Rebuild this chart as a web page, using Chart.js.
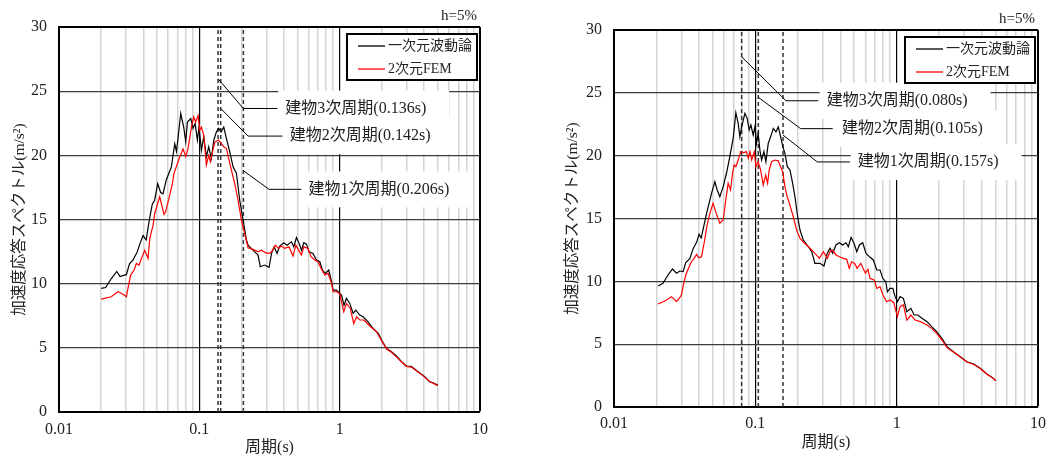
<!DOCTYPE html>
<html>
<head>
<meta charset="utf-8">
<script src="https://cdn.jsdelivr.net/npm/chart.js@4.4.1/dist/chart.umd.min.js"></script>
<style>
  body { margin: 0; background: #fff; }
  .panel { position: absolute; top: 0; }
</style>
</head>
<body>
<div class="panel" style="left:0"><canvas id="leftChart" width="530" height="459"></canvas></div>
<div class="panel" style="left:530px"><canvas id="rightChart" width="526" height="459"></canvas></div>
<script>
// shared axis stuff
const xLabelValues = [0.01, 0.1, 1, 10];
const xLabelTexts = ['0.01', '0.1', '1', '10'];
const seriesNames = ['一次元波動論', '2次元FEM'];
const xTitle = '周期(s)';
const yTitle = '加速度応答スペクトル(m/s²)';
const dampingText = 'h=5%';

// left panel
const leftBlackT = [0.0200, 0.0215, 0.0236, 0.0258, 0.0272, 0.0288, 0.0302, 0.0318, 0.0337, 0.0360,
  0.0380, 0.0397, 0.0418, 0.0440, 0.0462, 0.0480, 0.0505, 0.0530, 0.0551, 0.0582,
  0.0632, 0.0668, 0.0687, 0.0706, 0.0737, 0.0774, 0.0800, 0.0822, 0.0869, 0.0902,
  0.0933, 0.0969, 0.0995, 0.1035, 0.1075, 0.1122, 0.1166, 0.1219, 0.1267, 0.1324,
  0.1374, 0.1428, 0.1493, 0.1560, 0.1647, 0.1740, 0.1837, 0.1940, 0.2050, 0.2166,
  0.2225, 0.2480, 0.2620, 0.2720, 0.2920, 0.3140, 0.3270, 0.3410, 0.3580, 0.3740,
  0.4000, 0.4220, 0.4530, 0.4710, 0.4920, 0.5140, 0.5340, 0.5550, 0.5800, 0.6050,
  0.6460, 0.6830, 0.7220, 0.7540, 0.7920, 0.8360, 0.8750, 0.8980, 0.9480, 1.0300,
  1.0740, 1.1170, 1.1800, 1.2470, 1.3030, 1.3900, 1.4680, 1.5930, 1.7300, 1.8800,
  1.9900, 2.1600, 2.3400, 2.5400, 2.7600, 2.9900, 3.2500, 3.6200, 4.0400, 4.3800,
  4.6300, 5.0000];
const leftBlack = [9.63, 9.70, 10.40, 10.95, 10.55, 10.65, 10.70, 11.55, 11.85, 12.45,
  13.20, 13.75, 13.40, 14.95, 16.20, 16.50, 17.80, 17.10, 17.00, 18.10,
  19.10, 20.90, 20.30, 21.40, 23.26, 22.20, 21.05, 22.60, 22.87, 22.10,
  22.48, 21.18, 22.20, 20.40, 21.44, 19.90, 20.66, 19.76, 21.18, 21.83,
  22.10, 21.83, 22.20, 21.30, 20.27, 19.10, 18.60, 16.50, 14.95, 13.40,
  13.00, 12.48, 12.23, 11.32, 11.45, 11.27, 12.36, 12.87, 12.36, 12.93,
  13.19, 13.00, 13.26, 12.87, 13.60, 13.14, 12.60, 13.19, 13.08, 12.48,
  12.36, 11.84, 11.71, 11.06, 10.80, 11.06, 10.15, 9.50, 9.50, 9.11,
  8.33, 8.85, 8.46, 7.69, 7.94, 7.55, 7.42, 7.03, 6.52, 6.15,
  5.60, 4.95, 4.70, 4.36, 3.92, 3.58, 3.53, 3.14, 2.75, 2.36,
  2.28, 2.10];
const leftRedT = [0.0200, 0.0236, 0.0263, 0.0286, 0.0302, 0.0310, 0.0324, 0.0343, 0.0356, 0.0372,
  0.0387, 0.0408, 0.0431, 0.0443, 0.0468, 0.0481, 0.0522, 0.0560, 0.0575, 0.0615,
  0.0643, 0.0660, 0.0705, 0.0733, 0.0765, 0.0800, 0.0830, 0.0879, 0.0912, 0.0942,
  0.0980, 0.1007, 0.1035, 0.1075, 0.1122, 0.1166, 0.1200, 0.1288, 0.1374, 0.1430,
  0.1493, 0.1560, 0.1630, 0.1693, 0.1787, 0.1888, 0.1995, 0.2105, 0.2225, 0.2415,
  0.2620, 0.2770, 0.2970, 0.3170, 0.3320, 0.3490, 0.3660, 0.3850, 0.4050, 0.4350,
  0.4650, 0.4870, 0.5060, 0.5340, 0.5560, 0.5940, 0.6260, 0.6640, 0.7000, 0.7380,
  0.7830, 0.8260, 0.8750, 0.8980, 0.9480, 1.0000, 1.0700, 1.1170, 1.1900, 1.2600,
  1.3200, 1.3900, 1.4900, 1.6400, 1.8300, 1.9900, 2.1600, 2.3400, 2.5400, 2.7600,
  2.9900, 3.2500, 3.6200, 4.0400, 4.3800, 4.6300, 5.0000];
const leftRed = [8.80, 8.98, 9.37, 9.17, 8.98, 9.63, 10.67, 11.06, 11.58, 11.45,
  11.97, 12.60, 11.97, 13.50, 14.56, 15.47, 16.77, 15.40, 15.60, 16.90,
  17.80, 18.60, 19.50, 20.00, 20.50, 19.90, 20.50, 22.20, 23.00, 22.60,
  23.10, 21.96, 22.20, 21.57, 19.24, 20.00, 19.50, 21.05, 21.18, 20.93,
  20.66, 20.53, 19.60, 18.85, 17.80, 16.50, 14.95, 13.90, 12.80, 12.67,
  12.48, 12.60, 12.40, 12.36, 12.60, 13.00, 12.75, 12.93, 12.75, 12.87,
  12.15, 13.00, 12.67, 12.23, 12.87, 12.75, 12.10, 11.84, 11.71, 11.19,
  10.67, 10.80, 10.02, 9.37, 9.37, 9.24, 7.81, 8.46, 8.07, 6.90,
  7.42, 7.17, 7.17, 6.70, 6.25, 5.55, 4.90, 4.65, 4.30, 3.90,
  3.55, 3.50, 3.12, 2.72, 2.35, 2.25, 2.05];
const leftModes = [0.136, 0.142, 0.206];
const leftModeTexts = ['建物3次周期(0.136s)', '建物2次周期(0.142s)', '建物1次周期(0.206s)'];

// right panel
const rightBlackT = [0.0205, 0.0222, 0.0241, 0.0259, 0.0277, 0.0292, 0.0308, 0.0322, 0.0344, 0.0363,
  0.0384, 0.0400, 0.0414, 0.0430, 0.0452, 0.0490, 0.0517, 0.0537, 0.0561, 0.0592,
  0.0625, 0.0660, 0.0697, 0.0728, 0.0756, 0.0777, 0.0800, 0.0844, 0.0876, 0.0905,
  0.0930, 0.0966, 0.0993, 0.1020, 0.1047, 0.1077, 0.1107, 0.1150, 0.1188, 0.1234,
  0.1282, 0.1340, 0.1400, 0.1453, 0.1510, 0.1578, 0.1620, 0.1683, 0.1758, 0.1837,
  0.1906, 0.1993, 0.2070, 0.2184, 0.2370, 0.2505, 0.2640, 0.2866, 0.3060, 0.3230,
  0.3377, 0.3527, 0.3720, 0.3930, 0.4150, 0.4380, 0.4550, 0.4760, 0.4990, 0.5220,
  0.5450, 0.5750, 0.6070, 0.6480, 0.6840, 0.7230, 0.7630, 0.7970, 0.8370, 0.8600,
  0.8980, 0.9390, 0.9750, 1.0120, 1.0570, 1.1160, 1.1800, 1.2600, 1.3300, 1.4100,
  1.5100, 1.6400, 1.7700, 1.9200, 2.0900, 2.2700, 2.5200, 2.8200, 3.1400, 3.5000,
  3.9000, 4.3500, 4.8500, 5.0000];
const rightBlack = [9.63, 9.84, 10.50, 10.98, 10.64, 10.82, 10.77, 11.50, 11.80, 12.60,
  13.10, 13.74, 13.45, 14.30, 15.41, 17.00, 17.93, 17.27, 16.73, 17.53,
  18.60, 19.92, 21.38, 23.42, 22.57, 21.50, 22.30, 23.37, 22.97, 22.04,
  22.44, 21.64, 22.30, 20.98, 21.78, 20.45, 19.65, 20.32, 19.52, 20.98,
  21.50, 22.17, 21.90, 22.30, 21.50, 20.58, 20.19, 19.12, 18.86, 17.80,
  16.73, 15.14, 14.08, 13.29, 12.76, 12.36, 11.43, 11.43, 11.22, 12.23,
  12.63, 12.23, 12.89, 13.07, 12.89, 13.07, 12.76, 13.50, 13.03, 12.36,
  12.89, 13.07, 12.23, 11.91, 11.70, 10.90, 10.90, 10.24, 9.97, 9.17,
  9.44, 9.44, 8.78, 8.38, 8.78, 8.65, 7.58, 7.85, 7.32, 7.32,
  7.06, 6.79, 6.39, 5.99, 5.47, 4.80, 4.40, 4.00, 3.60, 3.42,
  3.08, 2.63, 2.28, 2.10];
const rightRedT = [0.0205, 0.0229, 0.0255, 0.0277, 0.0289, 0.0300, 0.0308, 0.0322, 0.0340, 0.0353,
  0.0369, 0.0384, 0.0398, 0.0416, 0.0434, 0.0456, 0.0477, 0.0502, 0.0529, 0.0561,
  0.0592, 0.0618, 0.0642, 0.0668, 0.0690, 0.0708, 0.0728, 0.0756, 0.0787, 0.0830,
  0.0865, 0.0891, 0.0916, 0.0942, 0.0982, 0.1010, 0.1047, 0.1090, 0.1137, 0.1183,
  0.1221, 0.1254, 0.1303, 0.1377, 0.1453, 0.1493, 0.1560, 0.1620, 0.1667, 0.1758,
  0.1855, 0.1960, 0.2070, 0.2180, 0.2436, 0.2640, 0.2840, 0.3030, 0.3230, 0.3377,
  0.3527, 0.3720, 0.3930, 0.4200, 0.4430, 0.4620, 0.4800, 0.5050, 0.5250, 0.5570,
  0.6010, 0.6260, 0.6480, 0.6960, 0.7230, 0.7630, 0.8000, 0.8490, 0.8980, 0.9540,
  1.0120, 1.0570, 1.1160, 1.1800, 1.2600, 1.3500, 1.4700, 1.6400, 1.7700, 1.9200,
  2.0900, 2.2700, 2.5200, 2.8200, 3.1400, 3.5000, 3.9000, 4.3500, 4.8500, 5.0000];
const rightRed = [8.20, 8.43, 8.78, 8.38, 8.65, 8.91, 9.57, 10.50, 11.16, 11.56,
  11.83, 12.15, 11.88, 11.96, 13.03, 14.50, 15.41, 16.20, 15.41, 14.62,
  14.88, 16.47, 17.80, 17.27, 18.60, 19.26, 19.12, 19.65, 20.32, 20.24,
  20.32, 19.80, 20.32, 19.65, 20.32, 19.12, 19.52, 18.86, 17.67, 18.46,
  17.80, 18.86, 19.52, 19.65, 19.60, 19.26, 18.72, 17.53, 16.87, 16.07,
  15.14, 14.08, 13.42, 13.15, 12.63, 12.23, 11.83, 12.36, 11.83, 12.36,
  12.49, 12.10, 11.96, 11.83, 11.75, 11.04, 11.56, 11.43, 11.04, 11.43,
  10.64, 10.96, 10.24, 10.10, 9.44, 9.57, 8.91, 8.38, 8.51, 8.30,
  7.19, 7.98, 8.12, 6.92, 7.32, 6.92, 6.79, 6.53, 6.26, 5.86,
  5.33, 4.72, 4.38, 3.98, 3.58, 3.40, 3.06, 2.61, 2.26, 2.08];
const rightModes = [0.080, 0.105, 0.157];
const rightModeTexts = ['建物3次周期(0.080s)', '建物2次周期(0.105s)', '建物1次周期(0.157s)'];

Chart.defaults.font.family = '"Liberation Serif", "Noto Sans CJK JP", serif';
Chart.defaults.color = '#222';

const toPoints = (ts, vs) => ts.map((t, i) => ({ x: t, y: vs[i] }));
const isDecade = v => Math.abs(Math.log10(v) - Math.round(Math.log10(v))) < 1e-6;

// gridline positions 1..9 per decade
const xGridValues = [];
for (let d = 0.01; d < 9; d *= 10) {
  for (let k = 1; k < 10; k++) xGridValues.push(+(k * d).toPrecision(3));
}
xGridValues.push(10);

const noteFont = '16px "Liberation Serif", "Noto Sans CJK JP"';

// leader lines: where the diagonal bends, where the horizontal stops, where text starts
function notesPlugin(modes, texts, leaders) {
  return {
    id: 'notes',
    beforeDatasetsDraw(chart) {
      const { ctx, scales: { x, y } } = chart;
      ctx.save();
      ctx.font = noteFont;
      leaders.forEach((ld, i) => {
        const tx = x.getPixelForValue(ld.text);
        const ty = y.getPixelForValue(ld.elbow[1]);
        const w = ctx.measureText(texts[i]).width;
        ctx.fillStyle = '#fff';
        ctx.fillRect(tx - 7, ty - 18, w + 30, 36);
      });
      ctx.restore();
    },
    afterDatasetsDraw(chart) {
      const { ctx, chartArea, scales: { x, y } } = chart;
      ctx.save();
      ctx.strokeStyle = '#000';
      ctx.lineWidth = 1;
      ctx.font = noteFont;
      ctx.textBaseline = 'middle';
      leaders.forEach((ld, i) => {
        const x0 = x.getPixelForValue(modes[i]), y0 = y.getPixelForValue(ld.from);
        const x1 = x.getPixelForValue(ld.elbow[0]), y1 = y.getPixelForValue(ld.elbow[1]);
        const x2 = x.getPixelForValue(ld.to);
        ctx.beginPath();
        ctx.moveTo(x0, y0);
        ctx.lineTo(x1, y1);
        ctx.lineTo(x2, y1);
        ctx.stroke();
        ctx.fillStyle = '#222';
        ctx.fillText(texts[i], x.getPixelForValue(ld.text), y1);
      });

      // legend box
      const bw = 130, bh = 46;
      const bx = chartArea.right - 3 - bw, by = chartArea.top + 7;
      ctx.fillStyle = '#fff';
      ctx.fillRect(bx, by, bw, bh);
      ctx.lineWidth = 2;
      ctx.strokeStyle = '#000';
      ctx.strokeRect(bx, by, bw, bh);
      ctx.font = '14px "Liberation Serif", "Noto Sans CJK JP"';
      ['#000', '#ff0000'].forEach((c, i) => {
        const ly = by + 12 + i * 23;
        ctx.strokeStyle = c;
        ctx.lineWidth = 1.3;
        ctx.beginPath();
        ctx.moveTo(bx + 11, ly);
        ctx.lineTo(bx + 38, ly);
        ctx.stroke();
        ctx.fillStyle = '#222';
        ctx.fillText(seriesNames[i], bx + 41, ly);
      });

      ctx.font = '15px "Liberation Serif"';
      ctx.textAlign = 'right';
      ctx.textBaseline = 'alphabetic';
      ctx.fillText(dampingText, chartArea.right - 3, chartArea.top - 7);
      ctx.restore();
    }
  };
}

function makePanel(id, lay, black, red, modes, texts, leaders) {
  const datasets = [
    { data: red, borderColor: '#ff0000', borderWidth: 1.2 },
    { data: black, borderColor: '#000', borderWidth: 1.2 },
    ...modes.map(m => ({
      data: [{ x: m, y: 0 }, { x: m, y: 30 }],
      borderColor: '#333', borderWidth: 1.5, borderDash: [4, 3]
    }))
  ];
  datasets.forEach(d => { d.pointRadius = 0; d.tension = 0; d.fill = false; });

  return new Chart(document.getElementById(id), {
    type: 'line',
    data: { datasets },
    plugins: [notesPlugin(modes, texts, leaders)],
    options: {
      responsive: false,
      animation: false,
      layout: { padding: { top: lay.top, right: lay.right, bottom: 0, left: 0 } },
      plugins: { legend: { display: false }, tooltip: { enabled: false } },
      scales: {
        x: {
          type: 'logarithmic',
          min: 0.01,
          max: 10,
          afterBuildTicks: s => { s.ticks = xGridValues.map(v => ({ value: v })); },
          afterFit: s => { s.height = lay.xh; },
          ticks: {
            autoSkip: false,
            maxRotation: 0,
            padding: lay.xpad,
            font: { size: 16 },
            callback: v => {
              const i = xLabelValues.findIndex(t => Math.abs(t - v) < 1e-9);
              return i >= 0 ? xLabelTexts[i] : '';
            }
          },
          grid: {
            drawTicks: false,
            color: c => isDecade(c.tick.value) ? '#000' : '#d4d4d4',
            lineWidth: c => isDecade(c.tick.value) ? (c.index === xGridValues.length - 1 ? 2 : 1.2) : 1.5
          },
          border: { color: '#000', width: 2 },
          title: {
            display: true, text: xTitle, color: '#222',
            font: { size: 16 }, padding: { top: 0, bottom: lay.xtitle }
          }
        },
        y: {
          min: 0,
          max: 30,
          afterFit: s => { s.width = lay.yw; },
          ticks: { stepSize: 5, padding: 12, font: { size: 16 } },
          grid: {
            drawTicks: false,
            color: c => c.tick.value === 30 ? '#000' : '#3c3c3c',
            lineWidth: c => c.tick.value === 30 ? 2 : 1.3
          },
          border: { color: '#000', width: 2 },
          title: {
            display: true, text: yTitle, color: '#222',
            font: { size: 15.5 }, padding: { top: lay.ytitle, bottom: 0 }
          }
        }
      }
    }
  });
}

makePanel('leftChart',
  { top: 27, right: 50, xh: 47, yw: 59, xpad: 8, xtitle: 2, ytitle: 11 },
  toPoints(leftBlackT, leftBlack), toPoints(leftRedT, leftRed),
  leftModes, leftModeTexts,
  [
    { from: 25.96, elbow: [0.206, 23.65], to: 0.36, text: 0.41 },
    { from: 23.65, elbow: [0.2225, 21.5], to: 0.391, text: 0.44 },
    { from: 18.8, elbow: [0.314, 17.35], to: 0.534, text: 0.6 }
  ]);

makePanel('rightChart',
  { top: 30, right: 18, xh: 52, yw: 84, xpad: 7, xtitle: 7, ytitle: 34 },
  toPoints(rightBlackT, rightBlack), toPoints(rightRedT, rightRed),
  rightModes, rightModeTexts,
  [
    { from: 27.87, elbow: [0.1647, 24.37], to: 0.279, text: 0.32 },
    { from: 24.64, elbow: [0.2094, 22.15], to: 0.3528, text: 0.41 },
    { from: 21.64, elbow: [0.2744, 19.5], to: 0.468, text: 0.53 }
  ]);
</script>
</body>
</html>
